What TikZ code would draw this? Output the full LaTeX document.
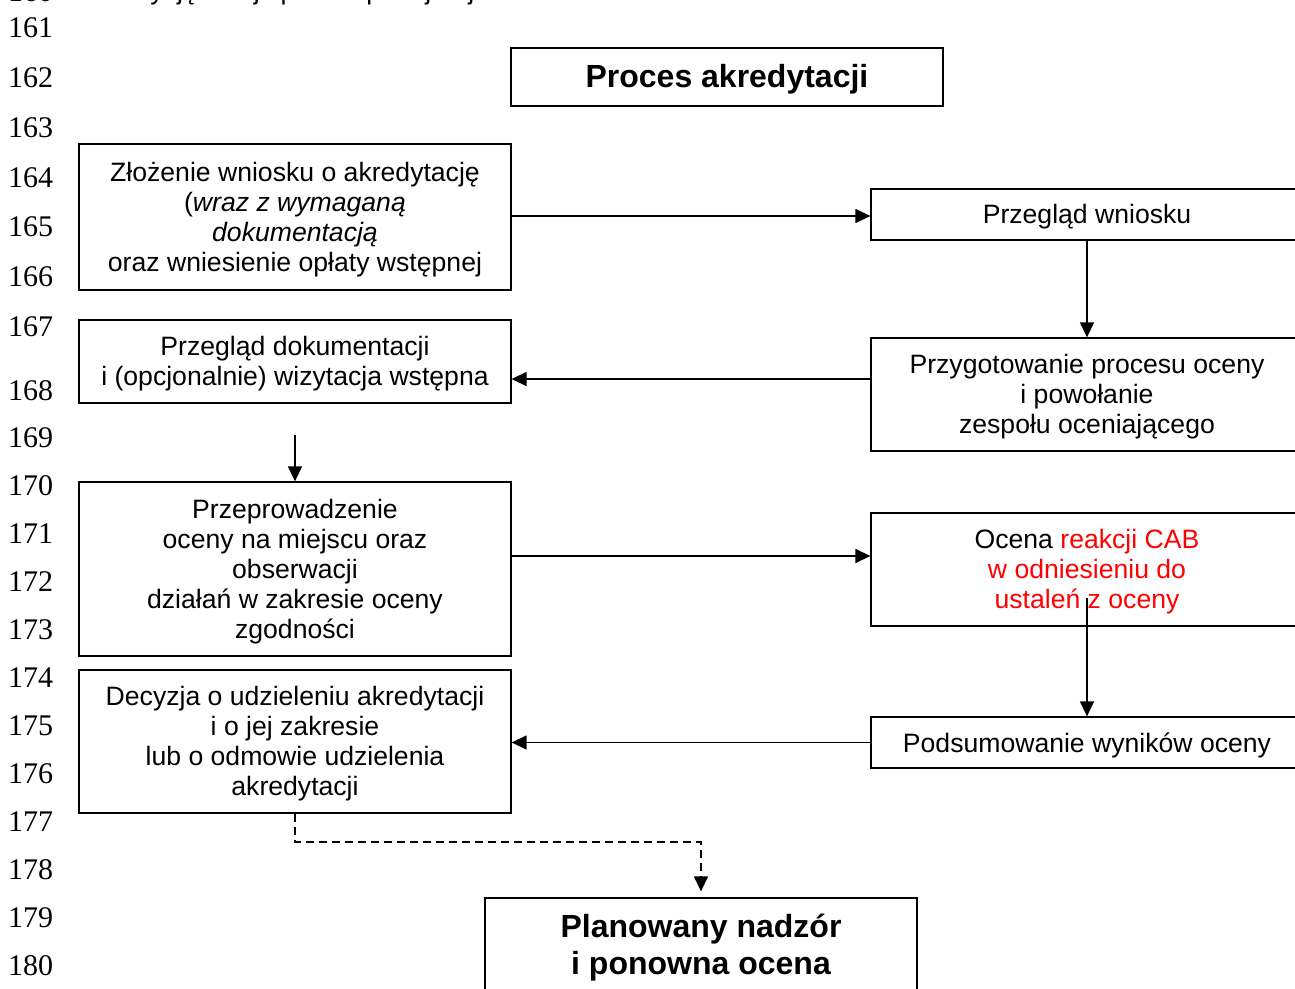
\documentclass[tikz,border=0pt]{standalone}
\usepackage{fontspec}
\setmainfont{Liberation Sans}
\newfontfamily\numfont{Liberation Serif}
\usetikzlibrary{arrows.meta}
% #1 name, #2 style, #3 position, #4 height, #5 text
\newcommand\mybox[5]{%
  \node[#2, minimum height=#4] (#1) at #3 {};
  \node[#2, draw=none] (#1-t) at ([yshift=-2.5pt]#1.center) {#5};}
\begin{document}
\begin{tikzpicture}[x=1pt,y=-1pt,
  box/.style={draw, line width=1.3pt, inner sep=0pt, align=center,
    minimum width=432pt, font=\fontsize{26.6}{30}\selectfont},
  bigbox/.style={box, font=\fontsize{32}{37}\selectfont\bfseries},
  arr/.style={line width=1.4pt, -{Triangle[length=15pt,width=14pt]}},
  lnum/.style={anchor=base west, inner sep=0pt, font=\numfont\fontsize{30}{30}\selectfont},
  plain/.style={anchor=base west, inner sep=0pt, font=\fontsize{26.6}{30}\selectfont}]
\useasboundingbox (0,0) rectangle (1295,988);
\fill[white] (0,0) rectangle (1295,988);

% line numbers
\node[lnum] (ln160) at (8,1) {160};
\node[plain] (prev) at (103,-1) {Decyzję w tej sprawie podejmuje PCA.};
\foreach \n/\y in {161/26,162/76,163/126,164/176,165/225,166/275,167/325,168/389,
  169/436,170/484,171/532,172/580,173/628,174/676,175/724,176/772,177/820,178/868,179/916,180/964}
  {\node[lnum] (ln\n) at (8,\y+11) {\n};}

% boxes
\mybox{title}{bigbox}{(727,77)}{58pt}{Proces akredytacji}
\mybox{b1}{box}{(295,217)}{146pt}{Złożenie wniosku o akredytację\\(\textit{wraz z wymaganą}\\\textit{dokumentacją}\\oraz wniesienie opłaty wstępnej}
\mybox{pw}{box}{(1087,214.5)}{51pt}{Przegląd wniosku}
\mybox{pd}{box}{(295,361.5)}{83pt}{Przegląd dokumentacji\\i (opcjonalnie) wizytacja wstępna}
\mybox{pp}{box}{(1087,394.5)}{113pt}{Przygotowanie procesu oceny\\i powołanie\\zespołu oceniającego}
\mybox{pr}{box}{(295,569)}{174pt}{Przeprowadzenie\\oceny na miejscu oraz\\obserwacji\\działań w zakresie oceny\\zgodności}
\mybox{oc}{box}{(1087,569.5)}{113pt}{Ocena \textcolor{red}{reakcji CAB}\\\textcolor{red}{w odniesieniu do}\\\textcolor{red}{ustaleń z oceny}}
\mybox{po}{box}{(1087,742.5)}{51pt}{Podsumowanie wyników oceny}
\mybox{de}{box}{(295,741.5)}{143pt}{Decyzja o udzieleniu akredytacji\\i o jej zakresie\\lub o odmowie udzielenia\\akredytacji}
\mybox{pl}{bigbox}{(701,945.5)}{95pt}{Planowany nadzór\\i ponowna ocena}

% helper coordinates
\coordinate (y1) at (0,216);
\coordinate (y3) at (0,379);
\coordinate (s4) at (295,435);
\coordinate (y5) at (0,556);
\coordinate (s6) at (1087,598);
\coordinate (y7) at (0,842);

% connectors
\draw[arr] (b1.east |- y1) -- (pw.west |- y1);
\draw[arr] (pw.south) -- (pp.north);
\draw[arr] (pp.west |- y3) -- (pd.east |- y3);
\draw[arr] (s4) -- (pr.north);
\draw[arr] (pr.east |- y5) -- (oc.west |- y5);
\draw[arr] (s6) -- (po.north);
\draw[arr] (po.west) -- (po.west -| de.east);
\draw[arr, dash pattern=on 8pt off 5pt, shorten >=6pt] (de.south) |- (y7 -| pl.north) -- (pl.north);
\end{tikzpicture}
\end{document}
